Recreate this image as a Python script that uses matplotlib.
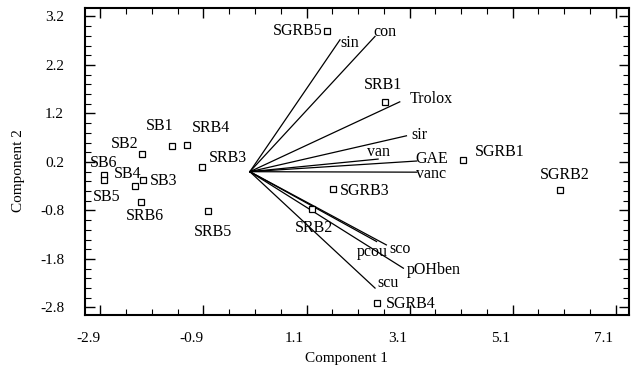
import matplotlib
matplotlib.use('Agg')
import matplotlib.pyplot as plt
import matplotlib.transforms as mtransforms
from matplotlib.ticker import MultipleLocator, FixedLocator

# Observations (scores)
obs_names = ['SGRB5', 'SRB1', 'SGRB1', 'SGRB2', 'SGRB3', 'SRB2', 'SGRB4',
             'SB1', 'SRB4', 'SB2', 'SRB3', 'SB6', 'SB5', 'SB4', 'SB3', 'SRB6', 'SRB5']
obs_x = [1.50, 2.63, 4.14, 6.02, 1.62, 1.21, 2.47,
         -1.52, -1.22, -2.10, -0.92, -2.83, -2.83, -2.22, -2.08, -2.12, -0.82]
obs_y = [2.90, 1.44, 0.24, -0.38, -0.36, -0.77, -2.71,
         0.52, 0.56, 0.36, 0.09, -0.07, -0.17, -0.29, -0.18, -0.62, -0.81]

# Variables (loadings, vector end points)
var_names = ['sin', 'con', 'Trolox', 'sir', 'van', 'GAE', 'vanc', 'pcou', 'sco', 'pOHben', 'scu']
var_x = [1.75, 2.43, 2.91, 3.04, 2.49, 3.24, 3.24, 2.46, 2.65, 2.98, 2.43]
var_y = [2.72, 2.79, 1.44, 0.74, 0.26, 0.22, -0.01, -1.44, -1.51, -1.99, -2.40]

x_ticks = [-2.9, -0.9, 1.1, 3.1, 5.1, 7.1]
y_ticks = [3.2, 2.2, 1.2, 0.2, -0.8, -1.8, -2.8]

# label placement (pixel offsets, alignment)
obs_lab = {
    'SGRB5': (-4, 0, 'right'), 'SRB1': (-2, 17, 'center'), 'SGRB1': (12, 8, 'left'),
    'SGRB2': (5, 15, 'center'), 'SGRB3': (7, -2, 'left'), 'SRB2': (2, -19, 'center'),
    'SGRB4': (9, -1, 'left'), 'SB1': (-12, 20, 'center'), 'SRB4': (24, 17, 'center'),
    'SB2': (-17, 10, 'center'), 'SRB3': (25, 9, 'center'), 'SB6': (0, 12, 'center'),
    'SB5': (3, -17, 'center'), 'SB4': (-8, 12, 'center'), 'SB3': (7, -1, 'left'),
    'SRB6': (4, -14, 'center'), 'SRB5': (5, -21, 'center'),
}
var_lab = {
    'sin': (0, -3, 'left'), 'con': (-2, 4, 'left'), 'Trolox': (10, 3, 'left'),
    'sir': (5, 1, 'left'), 'van': (0, 7, 'center'), 'GAE': (-1, 2, 'left'),
    'vanc': (-1, -2, 'left'), 'pcou': (-4, -10, 'center'), 'sco': (3, -4, 'left'),
    'pOHben': (3, -2, 'left'), 'scu': (2, 5, 'left'),
}

plt.rcParams['font.family'] = ['Liberation Serif', 'DejaVu Serif']

fig = plt.figure(figsize=(6.36, 3.71), dpi=100)
ax = fig.add_axes([85 / 636, 1 - 315 / 371, (629 - 85) / 636, (315 - 8) / 371])

# vectors
for name, vx, vy in zip(var_names, var_x, var_y):
    ax.plot([0, vx], [0, vy], color='black', lw=0.9, zorder=2)
    dx, dy, ha = var_lab[name]
    ax.annotate(name, (vx, vy), xytext=(dx, dy), textcoords='offset pixels',
                ha=ha, va='center', fontsize=11.5, color='black', zorder=4)

# points
ax.plot(obs_x, obs_y, linestyle='none', marker='s', markersize=5,
        markerfacecolor='white', markeredgecolor='black', markeredgewidth=0.9, zorder=3)
for name, ox, oy in zip(obs_names, obs_x, obs_y):
    dx, dy, ha = obs_lab[name]
    ax.annotate(name, (ox, oy), xytext=(dx, dy), textcoords='offset pixels',
                ha=ha, va='center', fontsize=11.5, color='black', zorder=4)

ax.set_xlim(-3.20, 7.36)
ax.set_ylim(-2.955, 3.375)
ax.xaxis.set_major_locator(FixedLocator(x_ticks))
ax.yaxis.set_major_locator(FixedLocator(y_ticks))
ax.xaxis.set_minor_locator(MultipleLocator(0.5, offset=0.1))
ax.yaxis.set_minor_locator(MultipleLocator(0.2))
ax.set_xticklabels([f'{t:.1f}' for t in x_ticks])
ax.set_yticklabels([f'{t:.1f}' for t in y_ticks])

ax.tick_params(which='both', direction='in', top=True, right=True, colors='black',
               labelsize=11)
ax.tick_params(which='major', length=7, width=1)
ax.tick_params(which='minor', length=4, width=0.8)
ax.tick_params(axis='x', which='major', pad=12)
ax.tick_params(axis='y', which='major', pad=15)

shift = mtransforms.ScaledTranslation(-12 / 100, 0, fig.dpi_scale_trans)
for lab in ax.get_xticklabels():
    lab.set_transform(lab.get_transform() + shift)

for sp in ax.spines.values():
    sp.set_linewidth(1.5)
    sp.set_color('black')

ax.set_xlabel('Component 1', fontsize=11)
ax.set_ylabel('Component 2', fontsize=11)
ax.xaxis.set_label_coords(0.48, -0.12)
ax.yaxis.set_label_coords(-0.11, 0.47)

fig.savefig('out.png', dpi=100, facecolor='white')
